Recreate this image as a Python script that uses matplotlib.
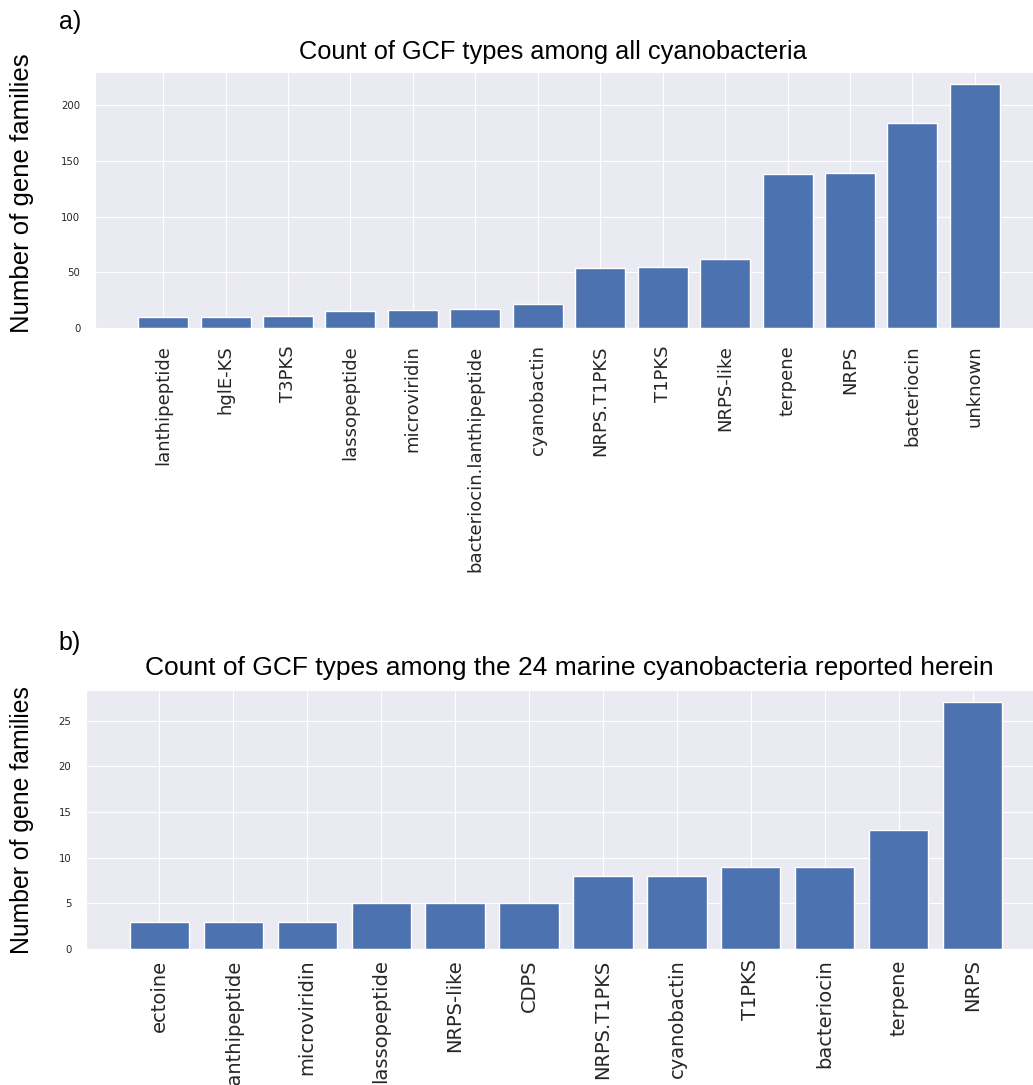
import numpy as np
import matplotlib
matplotlib.use('Agg')
import matplotlib.pyplot as plt
import seaborn as sns

'''
GCF type counts, panel a (all cyanobacteria) and panel b (24 marine strains)
'''
types_all = ['lanthipeptide', 'hglE-KS', 'T3PKS', 'lassopeptide', 'microviridin',
             'bacteriocin.lanthipeptide', 'cyanobactin', 'NRPS.T1PKS', 'T1PKS',
             'NRPS-like', 'terpene', 'NRPS', 'bacteriocin', 'unknown']
counts_all = [10, 10, 11, 15, 16, 17, 22, 54, 55, 62, 138, 139, 184, 219]

types_marine = ['ectoine', 'lanthipeptide', 'microviridin', 'lassopeptide', 'NRPS-like',
                'CDPS', 'NRPS.T1PKS', 'cyanobactin', 'T1PKS', 'bacteriocin',
                'terpene', 'NRPS']
counts_marine = [3, 3, 3, 5, 5, 5, 8, 8, 9, 9, 13, 27]

title_a = 'Count of GCF types among all cyanobacteria'
title_b = 'Count of GCF types among the 24 marine cyanobacteria reported herein'
ylab = 'Number of gene families'

sns.set_style('darkgrid')
bar_color = '#4C72B0'
W, H = 1033, 1085
fig = plt.figure(figsize=(W / 100, H / 100), dpi=100)
arial = ['Liberation Sans', 'DejaVu Sans']

def fx(px):
    return px / W

def fy(py):
    return 1 - py / H

# panel a
ax1 = fig.add_axes([fx(95), fy(328), fx(1043 - 95), (328 - 72) / H])
ax1.bar(np.arange(len(types_all)), counts_all, color=bar_color, width=0.8)
ax1.set_xticks(np.arange(len(types_all)))
ax1.set_xticklabels(types_all, rotation=90, fontsize=13)
ax1.set_yticks([0, 50, 100, 150, 200])
ax1.tick_params(axis='y', labelsize=7.3, pad=7)
ax1.tick_params(axis='x', pad=9)
ax1.set_ylim(0, 230)

# panel b
ax2 = fig.add_axes([fx(86), fy(949), fx(1046 - 86), (949 - 690) / H])
ax2.bar(np.arange(len(types_marine)), counts_marine, color=bar_color, width=0.8)
ax2.set_xticks(np.arange(len(types_marine)))
ax2.set_xticklabels(types_marine, rotation=90, fontsize=14)
ax2.set_yticks([0, 5, 10, 15, 20, 25])
ax2.tick_params(axis='y', labelsize=7.3, pad=7)
ax2.tick_params(axis='x', pad=4)
ax2.set_ylim(0, 28.35)

# titles, labels
fig.text(fx(553), fy(52), title_a, ha='center', va='center', fontsize=18.3,
         family=arial, color='black')
fig.text(fx(569), fy(668), title_b, ha='center', va='center', fontsize=19,
         family=arial, color='black')
fig.text(fx(22), fy(193), ylab, rotation=90, ha='center', va='center',
         fontsize=18.5, family=arial, color='black')
fig.text(fx(22), fy(820), ylab, rotation=90, ha='center', va='center',
         fontsize=17.8, family=arial, color='black')
fig.text(fx(70), fy(22), 'a)', ha='center', va='center', fontsize=18,
         family=arial, color='black')
fig.text(fx(70), fy(643), 'b)', ha='center', va='center', fontsize=18,
         family=arial, color='black')

plt.savefig('out.png', dpi=100)
